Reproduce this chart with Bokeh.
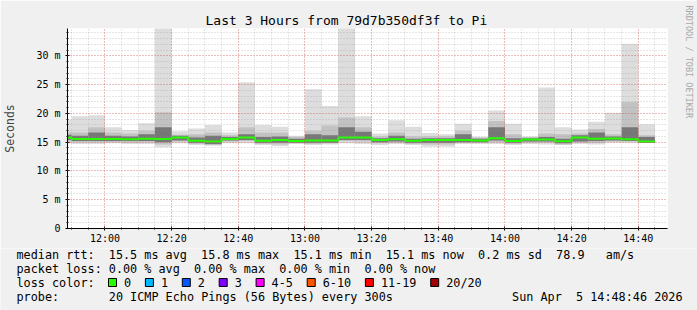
import pandas as pd
from bokeh.plotting import figure
from bokeh.models import Range1d, FixedTicker, DatetimeTickFormatter, Title
from bokeh.core.properties import value
from bokeh.embed import file_html
from bokeh.resources import INLINE

# ---------------- data ----------------
TITLE = "Last 3 Hours from 79d7b350df3f to Pi"
SIDE_TEXT = "RRDTOOL / TOBI OETIKER"
WINDOW_START = "2026-04-05 11:48:46"
WINDOW_END = "2026-04-05 14:48:46"
FIRST_BIN = "2026-04-05 11:45:00"
BIN_MINUTES = 5

# per 5-minute bin, ping round trip times in ms (smoke layers and median)
rtt_median = [15.8, 15.55, 15.55, 15.55, 15.5, 15.6, 15.55, 15.8, 15.25, 15.1, 15.55, 15.8,
              15.25, 15.4, 15.2, 15.3, 15.3, 15.8, 15.8, 15.4, 15.5, 15.25, 15.4, 15.4,
              15.4, 15.3, 15.7, 15.2, 15.45, 15.45, 15.15, 15.8, 15.6, 15.65, 15.5, 15.1]
rtt_max = [18.9, 19.5, 19.7, 17.6, 17.1, 18.3, 36.5, 16.9, 17.4, 18.0, 16.7, 25.4,
           18.0, 17.7, 16.1, 24.2, 21.3, 38.0, 19.5, 16.5, 18.8, 17.7, 16.6, 16.4,
           18.2, 15.95, 20.5, 18.2, 16.0, 24.5, 17.6, 17.2, 18.55, 20.1, 32.1, 18.1]
rtt_hi2 = [16.7, 16.7, 17.6, 16.7, 16.5, 17.0, 20.2, 16.3, 16.4, 16.7, 16.2, 17.6,
           16.7, 16.7, 15.9, 17.0, 17.9, 19.3, 17.6, 16.0, 16.7, 16.0, 16.0, 16.0,
           17.0, 15.8, 18.7, 16.4, 15.9, 16.5, 16.4, 16.5, 17.3, 16.4, 22.0, 16.2]
rtt_hi3 = [16.3, 16.1, 16.7, 16.1, 16.0, 16.4, 17.6, 16.1, 15.8, 16.1, 15.9, 16.4,
           15.9, 16.0, 15.6, 16.4, 16.2, 17.6, 16.8, 15.7, 16.1, 15.6, 15.7, 15.7,
           16.4, 15.6, 17.6, 15.7, 15.7, 15.9, 15.6, 16.2, 16.7, 16.0, 17.6, 15.9]
rtt_lo3 = [15.4, 15.2, 15.2, 15.2, 15.2, 15.2, 15.0, 15.3, 14.9, 14.7, 15.3, 15.4,
           14.9, 14.9, 14.9, 14.9, 14.9, 15.4, 15.4, 15.0, 15.1, 14.9, 14.9, 14.9,
           15.0, 15.0, 15.3, 14.9, 15.1, 15.1, 14.8, 15.1, 15.2, 15.3, 15.2, 14.9]
rtt_lo2 = [15.1, 15.0, 15.0, 15.0, 14.9, 15.0, 14.6, 15.1, 14.7, 14.5, 15.1, 15.2,
           14.7, 14.6, 14.8, 14.7, 14.8, 15.2, 15.1, 14.8, 14.9, 14.7, 14.6, 14.6,
           14.9, 14.9, 15.0, 14.7, 14.9, 14.9, 14.6, 14.9, 14.9, 15.1, 15.1, 14.9]
rtt_min = [14.8, 14.7, 14.7, 14.8, 14.7, 14.7, 14.1, 14.8, 14.5, 14.4, 14.8, 14.8,
           14.5, 14.3, 14.7, 14.5, 14.6, 14.8, 14.7, 14.5, 14.7, 14.5, 14.2, 14.2,
           14.7, 14.7, 14.7, 14.5, 14.7, 14.6, 14.5, 14.7, 14.6, 14.9, 14.9, 14.9]

x_tick_labels = ["12:00", "12:20", "12:40", "13:00", "13:20", "13:40", "14:00", "14:20", "14:40"]
y_tick_values = [0, 5, 10, 15, 20, 25, 30]
y_tick_labels = ["0", "5 m", "10 m", "15 m", "20 m", "25 m", "30 m"]
y_top = 34.76

legend_rows = [
    ["median rtt:", "15.5 ms avg", "15.8 ms max", "15.1 ms min", "15.1 ms now", "0.2 ms sd", "78.9", "am/s"],
    ["packet loss:", "0.00 % avg", "0.00 % max", "0.00 % min", "0.00 % now"],
    ["loss color:"],
    ["probe:", "20 ICMP Echo Pings (56 Bytes) every 300s"],
]
loss_labels = ["0", "1", "2", "3", "4-5", "6-10", "11-19", "20/20"]
loss_colors = ["#26ff00", "#00b8ff", "#0059ff", "#7e00ff", "#ff00ff", "#ff5500", "#ff0000", "#a10000"]
stamp_parts = ["Sun Apr", "5 14:48:46 2026"]

# ---------------- layout / style ----------------
legend_cols = [[0, 13, 26, 39, 52, 65, 76, 83], [0, 13, 25, 37, 49], [0], [0, 13]]
BG = "#f0f0f0"
MONO = "DejaVu Sans Mono"
SMOKE = ["#dddddd", "#c2c2c2", "#777777"]
W = 697
FL, FT, FW, FH = 67, 28, 600, 200
TOP_H = 248
LEG_H = 310 - TOP_H

starts = list(pd.date_range(FIRST_BIN, periods=len(rtt_median), freq=f"{BIN_MINUTES}min"))
ends = [s + pd.Timedelta(minutes=BIN_MINUTES) for s in starts]

p = figure(width=W, height=TOP_H, output_backend="svg", toolbar_location=None,
           x_axis_type="datetime",
           x_range=Range1d(pd.Timestamp(WINDOW_START), pd.Timestamp(WINDOW_END)),
           y_range=Range1d(0, y_top),
           min_border_left=FL, min_border_right=W - FL - FW, min_border_top=FT,
           min_border_bottom=TOP_H - FT - FH)
p.border_fill_color = BG
p.background_fill_color = "white"
p.outline_line_color = None

for (lo, hi), col in zip([(rtt_min, rtt_max), (rtt_lo2, rtt_hi2), (rtt_lo3, rtt_hi3)], SMOKE):
    p.quad(left=starts, right=ends, bottom=lo, top=hi, fill_color=col, line_color=None)

p.step(x=starts + [ends[-1]], y=rtt_median + [rtt_median[-1]], mode="after",
       line_color=loss_colors[0], line_width=2)

day = WINDOW_START[:10]
x_major = [pd.Timestamp(f"{day} {t}").value / 1e6 for t in x_tick_labels]
x_minor = [t.value / 1e6 for t in pd.date_range(f"{day} 11:50", f"{day} 14:45", freq="5min")]
p.xaxis.ticker = FixedTicker(ticks=x_major, minor_ticks=x_minor)
p.xaxis.formatter = DatetimeTickFormatter(minutes="%H:%M", hourmin="%H:%M", hours="%H:%M")
p.yaxis.ticker = FixedTicker(ticks=y_tick_values, minor_ticks=list(range(0, 35)))
p.yaxis.major_label_overrides = {v: l for v, l in zip(y_tick_values, y_tick_labels)}
p.yaxis.axis_label = "Seconds"

for ax in (p.xaxis, p.yaxis):
    ax.axis_line_color = "black"
    ax.major_tick_line_color = "black"
    ax.minor_tick_line_color = "black"
    ax.major_label_text_font = MONO
    ax.major_label_text_font_size = "10px"
    ax.major_label_text_color = "black"
    ax.major_tick_in = 2
    ax.major_tick_out = 2
    ax.minor_tick_in = 1
    ax.minor_tick_out = 1
p.xaxis.major_label_standoff = 2
p.yaxis.major_label_standoff = 5
p.yaxis.axis_label_text_font = MONO
p.yaxis.axis_label_text_font_size = "11.5px"
p.yaxis.axis_label_text_font_style = "normal"
p.yaxis.axis_label_standoff = 16

for g in (p.xgrid, p.ygrid):
    g.level = "annotation"
    g.grid_line_color = "#ff0000"
    g.grid_line_alpha = 0.35
    g.grid_line_dash = "1 2"
    g.minor_grid_line_color = "#909090"
    g.minor_grid_line_alpha = 0.45
    g.minor_grid_line_dash = "1 2"
p.xgrid.ticker = p.xaxis.ticker
p.ygrid.ticker = p.yaxis.ticker

p.add_layout(Title(text=TITLE, align="left", offset=138, standoff=2, text_font=MONO,
                   text_font_size="13px", text_font_style="normal", text_color="black"), "above")
# spacer panel between the frame and the side text, then the side text itself
p.add_layout(Title(text=" ", text_font_size="2px", standoff=5.5, text_color=BG), "right")
p.add_layout(Title(text=SIDE_TEXT, align="left", offset=-23, standoff=8, vertical_align="top",
                   text_font=MONO, text_font_size="8.5px", text_font_style="normal",
                   text_color="#a8a8a8"), "right")

# ---------------- legend strip (pixel coordinates) ----------------
leg = figure(width=W, height=LEG_H, output_backend="svg", toolbar_location=None,
             x_range=Range1d(0, W), y_range=Range1d(LEG_H, 0), min_border=0)
leg.border_fill_color = BG
leg.background_fill_color = BG
leg.outline_line_color = None
leg.axis.visible = False
leg.grid.visible = False

CW = 7.1
X0 = 16
row_y = [254 - TOP_H, 268 - TOP_H, 282 - TOP_H, 296 - TOP_H]
tx, ty, tt = [], [], []
for tokens, cols, y in zip(legend_rows, legend_cols, row_y):
    for t, c in zip(tokens, cols):
        tx.append(X0 + c * CW)
        ty.append(y)
        tt.append(t)
stamp_x = 682 - 24 * CW
tx += [stamp_x, stamp_x + 9 * CW]
ty += [row_y[3], row_y[3]]
tt += stamp_parts

bx = 108.0
box_x, lab_x = [], []
for t in loss_labels:
    box_x.append(bx + 4)
    lab_x.append(bx + 15.5)
    bx = bx + 15.5 + len(t) * CW + 14.3
tx += lab_x
ty += [row_y[2]] * len(lab_x)
tt += loss_labels

leg.rect(x=box_x, y=[row_y[2]] * len(box_x), width=8, height=8, fill_color=loss_colors,
         line_color="black", line_width=1)
leg.text(x=tx, y=ty, text=tt, text_font=value(MONO), text_font_size="11.8px",
         text_baseline="middle", text_color="black")

open("out.html", "w").write(file_html([p, leg], INLINE))
